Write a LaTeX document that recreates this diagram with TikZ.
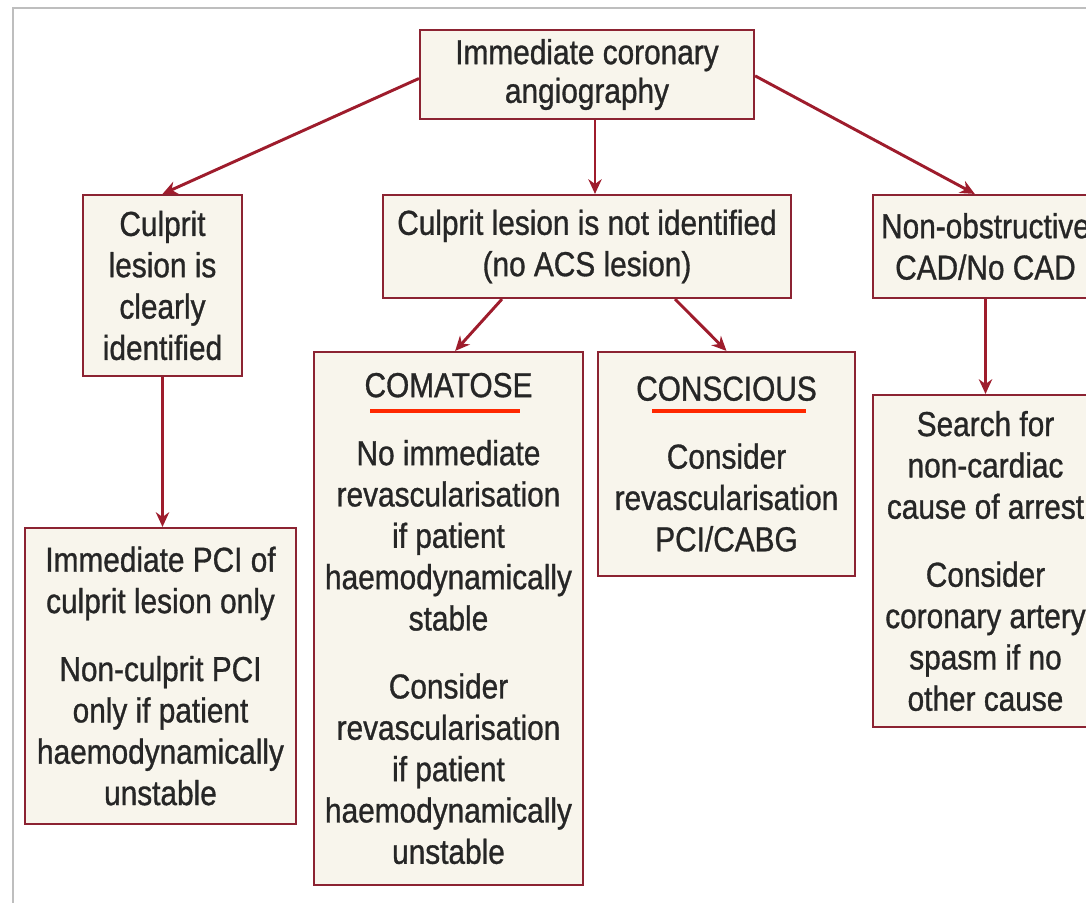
\documentclass[tikz,border=0pt]{standalone}
\usepackage{fontspec}
\setmainfont[FakeStretch=0.86,FakeBold=0.9]{Liberation Sans}
\usetikzlibrary{arrows.meta}

\definecolor{boxred}{RGB}{140,35,50}
\definecolor{arrowred}{RGB}{158,28,44}
\definecolor{boxfill}{RGB}{248,245,236}
\definecolor{marker}{RGB}{255,40,0}
\definecolor{framegrey}{RGB}{190,190,190}
\definecolor{inktext}{RGB}{38,38,38}

\tikzset{every picture/.style={line width=0.75pt}}
\tikzset{
  box/.style={draw=boxred, line width=1.6pt, fill=boxfill, text=inktext, align=center,
    inner sep=0pt, font=\fontsize{26}{31}\selectfont},
  arr/.style={draw=arrowred, line width=2.2pt, -{Stealth[length=11pt,width=10pt]}},
  markline/.style={draw=marker, line width=3pt},
}

\begin{document}
\begin{tikzpicture}[x=0.75pt,y=0.75pt,yscale=-1,xscale=1]
\useasboundingbox (0,0) rectangle (1086,903);

%Frame
\draw [framegrey, line width=1.5pt] (13,903) -- (13,8) -- (1086,8) ;

%Boxes
\node [box, minimum width=250.5pt, minimum height=66.75pt, font=\fontsize{26}{29}\selectfont] (angio) at (587,74.5) {Immediate coronary\\angiography};
\node [box, minimum width=119.25pt, minimum height=135.75pt] (found) at (162.5,285.5) {Culprit\\lesion is\\clearly\\identified};
\node [box, minimum width=306pt, minimum height=77.25pt] (notfound) at (587,246.5) {Culprit lesion is not identified\\(no ACS lesion)};
\node [box, minimum width=168.75pt, minimum height=77.25pt] (nocad) at (985.5,246.5) {Non-obstructive\\CAD/No CAD};
\node [box, minimum width=203.25pt, minimum height=222pt] (pci) at (160.5,676) {Immediate PCI of\\culprit lesion only\\[20pt]Non-culprit PCI\\only if patient\\haemodynamically\\unstable};
\node [box, minimum width=201.75pt, minimum height=399.75pt] (coma) at (448.5,618.5) {COMATOSE\\[20pt]No immediate\\revascularisation\\if patient\\haemodynamically\\stable\\[20pt]Consider\\revascularisation\\if patient\\haemodynamically\\unstable};
\node [box, minimum width=192.75pt, minimum height=168pt] (conscious) at (726.5,464) {CONSCIOUS\\[20pt]Consider\\revascularisation\\PCI/CABG};
\node [box, minimum width=168.75pt, minimum height=249pt] (search) at (985.5,561) {Search for\\non-cardiac\\cause of arrest\\[20pt]Consider\\coronary artery\\spasm if no\\other cause};

%Arrows
\draw [arr] ([yshift=3pt]angio.west) -- (found.north) ;
\draw [arr] ([xshift=6pt]angio.south) -- ([xshift=6pt]notfound.north) ;
\draw [arr] ([yshift=1pt]angio.east) -- ([xshift=-8pt]nocad.north) ;
\draw [arr] ([xshift=-63.75pt]notfound.south) -- ([xshift=5pt]coma.north) ;
\draw [arr] ([xshift=66pt]notfound.south) -- (conscious.north) ;
\draw [arr] (found.south) -- (found.south |- pci.north) ;
\draw [arr] (nocad.south) -- (nocad.south |- search.north) ;

%Underlines
\draw [markline] (370,411) -- (520,411) ;
\draw [markline] (652,411) -- (806,411) ;

\end{tikzpicture}
\end{document}
